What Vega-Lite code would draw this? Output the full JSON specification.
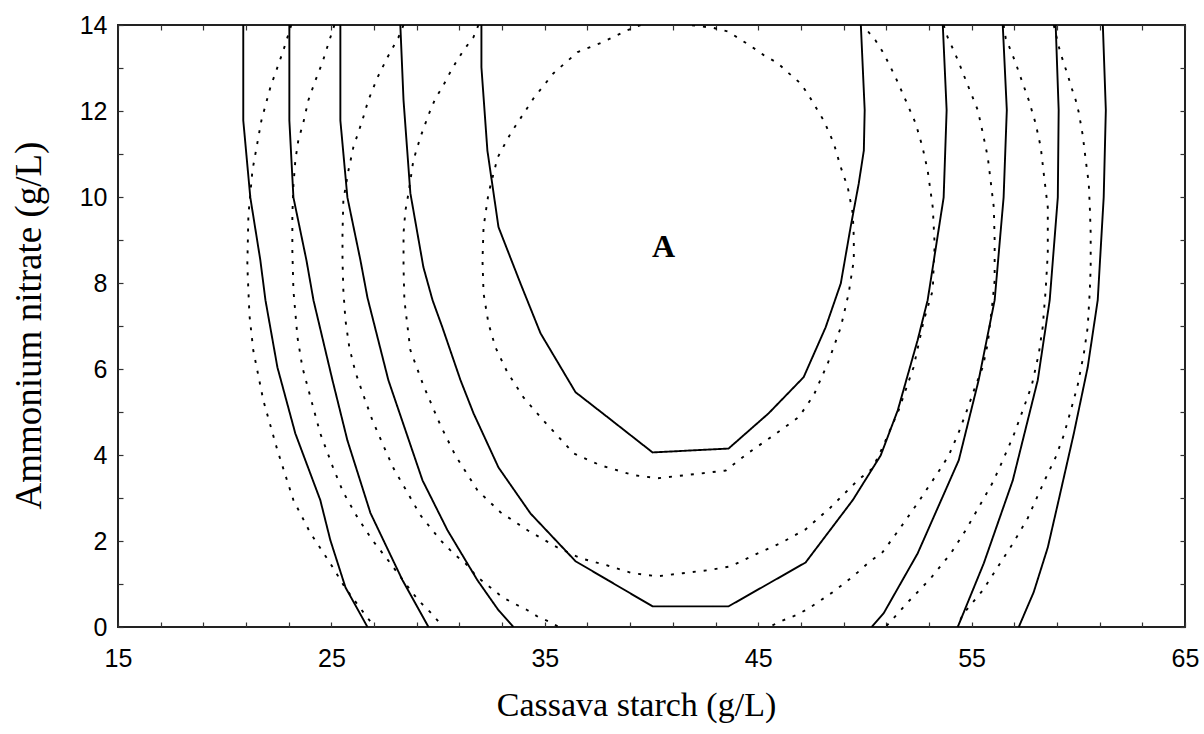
{
"$schema": "https://vega.github.io/schema/vega-lite/v6.json",
"width": 1067, "height": 602,
"autosize": "none",
"padding": {"left": 118, "top": 25, "right": 19, "bottom": 107},
"background": "white",
"config": {"view": {"stroke": "#222", "strokeWidth": 2}},
"datasets": {
"curves": [
{"c":"S1L","t":"solid","x":20.87,"y":14},{"c":"S1L","t":"solid","x":20.87,"y":11.78},{"c":"S1L","t":"solid","x":21.20,"y":9.99},{"c":"S1L","t":"solid","x":21.67,"y":8.53},{"c":"S1L","t":"solid","x":21.91,"y":7.60},{"c":"S1L","t":"solid","x":22.47,"y":6.04},{"c":"S1L","t":"solid","x":22.89,"y":5.27},{"c":"S1L","t":"solid","x":23.31,"y":4.50},{"c":"S1L","t":"solid","x":24.48,"y":2.95},{"c":"S1L","t":"solid","x":24.95,"y":2.02},{"c":"S1L","t":"solid","x":25.66,"y":0.92},{"c":"S1L","t":"solid","x":26.69,"y":0},
{"c":"S2L","t":"solid","x":23.03,"y":14},{"c":"S2L","t":"solid","x":23.03,"y":11.78},{"c":"S2L","t":"solid","x":23.22,"y":9.99},{"c":"S2L","t":"solid","x":23.83,"y":8.53},{"c":"S2L","t":"solid","x":24.16,"y":7.60},{"c":"S2L","t":"solid","x":25.05,"y":5.74},{"c":"S2L","t":"solid","x":25.75,"y":4.34},{"c":"S2L","t":"solid","x":26.83,"y":2.65},{"c":"S2L","t":"solid","x":28.33,"y":1.09},{"c":"S2L","t":"solid","x":29.55,"y":0},
{"c":"S3L","t":"solid","x":25.42,"y":14},{"c":"S3L","t":"solid","x":25.42,"y":11.78},{"c":"S3L","t":"solid","x":25.75,"y":9.99},{"c":"S3L","t":"solid","x":26.36,"y":8.53},{"c":"S3L","t":"solid","x":26.69,"y":7.66},{"c":"S3L","t":"solid","x":27.67,"y":5.74},{"c":"S3L","t":"solid","x":29.27,"y":3.41},{"c":"S3L","t":"solid","x":30.44,"y":2.25},{"c":"S3L","t":"solid","x":31.84,"y":1.09},{"c":"S3L","t":"solid","x":32.83,"y":0.39},{"c":"S3L","t":"solid","x":33.53,"y":0},
{"c":"S4","t":"solid","x":28.23,"y":14},{"c":"S4","t":"solid","x":28.38,"y":12.25},{"c":"S4","t":"solid","x":28.70,"y":10.09},{"c":"S4","t":"solid","x":29.31,"y":8.37},{"c":"S4","t":"solid","x":29.74,"y":7.60},{"c":"S4","t":"solid","x":30.20,"y":6.97},{"c":"S4","t":"solid","x":31.05,"y":5.74},{"c":"S4","t":"solid","x":31.66,"y":4.97},{"c":"S4","t":"solid","x":32.83,"y":3.71},{"c":"S4","t":"solid","x":34.33,"y":2.64},{"c":"S4","t":"solid","x":36.44,"y":1.53},{"c":"S4","t":"solid","x":40.05,"y":0.48},{"c":"S4","t":"solid","x":43.61,"y":0.48},{"c":"S4","t":"solid","x":47.22,"y":1.50},{"c":"S4","t":"solid","x":49.43,"y":2.95},{"c":"S4","t":"solid","x":50.74,"y":3.99},{"c":"S4","t":"solid","x":51.54,"y":5.04},{"c":"S4","t":"solid","x":52.47,"y":6.67},{"c":"S4","t":"solid","x":52.94,"y":7.60},{"c":"S4","t":"solid","x":53.69,"y":9.99},{"c":"S4","t":"solid","x":53.83,"y":12.02},{"c":"S4","t":"solid","x":53.65,"y":14},
{"c":"S5","t":"solid","x":32.03,"y":14},{"c":"S5","t":"solid","x":32.03,"y":13.02},{"c":"S5","t":"solid","x":32.31,"y":11.08},{"c":"S5","t":"solid","x":32.83,"y":9.30},{"c":"S5","t":"solid","x":33.86,"y":7.99},{"c":"S5","t":"solid","x":34.80,"y":6.83},{"c":"S5","t":"solid","x":36.44,"y":5.46},{"c":"S5","t":"solid","x":37.71,"y":4.97},{"c":"S5","t":"solid","x":40.05,"y":4.06},{"c":"S5","t":"solid","x":43.61,"y":4.15},{"c":"S5","t":"solid","x":45.49,"y":4.97},{"c":"S5","t":"solid","x":47.13,"y":5.81},{"c":"S5","t":"solid","x":48.16,"y":6.97},{"c":"S5","t":"solid","x":48.87,"y":7.99},{"c":"S5","t":"solid","x":49.33,"y":9.30},{"c":"S5","t":"solid","x":49.71,"y":10.31},{"c":"S5","t":"solid","x":49.95,"y":11.08},{"c":"S5","t":"solid","x":49.99,"y":12.02},{"c":"S5","t":"solid","x":49.81,"y":14},
{"c":"S3R","t":"solid","x":56.46,"y":14},{"c":"S3R","t":"solid","x":56.65,"y":12.02},{"c":"S3R","t":"solid","x":56.50,"y":9.99},{"c":"S3R","t":"solid","x":56.08,"y":7.60},{"c":"S3R","t":"solid","x":55.33,"y":5.74},{"c":"S3R","t":"solid","x":54.40,"y":3.88},{"c":"S3R","t":"solid","x":52.47,"y":1.71},{"c":"S3R","t":"solid","x":50.88,"y":0.32},{"c":"S3R","t":"solid","x":50.32,"y":0},
{"c":"S2R","t":"solid","x":58.94,"y":14},{"c":"S2R","t":"solid","x":59.08,"y":12.02},{"c":"S2R","t":"solid","x":59.04,"y":9.99},{"c":"S2R","t":"solid","x":58.66,"y":7.60},{"c":"S2R","t":"solid","x":58.10,"y":5.74},{"c":"S2R","t":"solid","x":56.93,"y":3.41},{"c":"S2R","t":"solid","x":55.57,"y":1.48},{"c":"S2R","t":"solid","x":54.35,"y":0},
{"c":"S1R","t":"solid","x":61.15,"y":14},{"c":"S1R","t":"solid","x":61.29,"y":12.02},{"c":"S1R","t":"solid","x":61.19,"y":9.99},{"c":"S1R","t":"solid","x":60.91,"y":7.60},{"c":"S1R","t":"solid","x":60.44,"y":6.04},{"c":"S1R","t":"solid","x":59.79,"y":4.50},{"c":"S1R","t":"solid","x":59.08,"y":2.95},{"c":"S1R","t":"solid","x":58.57,"y":1.85},{"c":"S1R","t":"solid","x":57.91,"y":0.81},{"c":"S1R","t":"solid","x":57.21,"y":0},
{"c":"D1L","t":"dotted","x":23.12,"y":14},{"c":"D1L","t":"dotted","x":22.75,"y":13.41},{"c":"D1L","t":"dotted","x":22.14,"y":12.55},{"c":"D1L","t":"dotted","x":21.72,"y":11.78},{"c":"D1L","t":"dotted","x":21.30,"y":10.62},{"c":"D1L","t":"dotted","x":21.11,"y":9.57},{"c":"D1L","t":"dotted","x":21.06,"y":8.41},{"c":"D1L","t":"dotted","x":21.16,"y":7.25},{"c":"D1L","t":"dotted","x":21.34,"y":6.43},{"c":"D1L","t":"dotted","x":21.81,"y":5.27},{"c":"D1L","t":"dotted","x":22.47,"y":4.11},{"c":"D1L","t":"dotted","x":23.22,"y":2.95},{"c":"D1L","t":"dotted","x":24.02,"y":2.18},{"c":"D1L","t":"dotted","x":24.95,"y":1.48},{"c":"D1L","t":"dotted","x":25.66,"y":0.90},{"c":"D1L","t":"dotted","x":26.50,"y":0.34},{"c":"D1L","t":"dotted","x":27.02,"y":0},
{"c":"D2L","t":"dotted","x":25.14,"y":14},{"c":"D2L","t":"dotted","x":24.86,"y":13.57},{"c":"D2L","t":"dotted","x":24.58,"y":13.13},{"c":"D2L","t":"dotted","x":24.25,"y":12.71},{"c":"D2L","t":"dotted","x":23.92,"y":12.25},{"c":"D2L","t":"dotted","x":23.69,"y":11.74},{"c":"D2L","t":"dotted","x":23.45,"y":11.32},{"c":"D2L","t":"dotted","x":23.31,"y":10.85},{"c":"D2L","t":"dotted","x":23.22,"y":10.27},{"c":"D2L","t":"dotted","x":23.17,"y":9.57},{"c":"D2L","t":"dotted","x":23.17,"y":8.76},{"c":"D2L","t":"dotted","x":23.22,"y":7.83},{"c":"D2L","t":"dotted","x":23.41,"y":6.74},{"c":"D2L","t":"dotted","x":23.64,"y":6.04},{"c":"D2L","t":"dotted","x":24.02,"y":5.34},{"c":"D2L","t":"dotted","x":24.48,"y":4.50},{"c":"D2L","t":"dotted","x":25.09,"y":3.69},{"c":"D2L","t":"dotted","x":25.56,"y":3.13},{"c":"D2L","t":"dotted","x":26.22,"y":2.55},{"c":"D2L","t":"dotted","x":26.92,"y":2.02},{"c":"D2L","t":"dotted","x":27.77,"y":1.48},{"c":"D2L","t":"dotted","x":28.42,"y":1.04},{"c":"D2L","t":"dotted","x":29.08,"y":0.62},{"c":"D2L","t":"dotted","x":29.64,"y":0.34},{"c":"D2L","t":"dotted","x":30.25,"y":0},
{"c":"D3L","t":"dotted","x":28.38,"y":14},{"c":"D3L","t":"dotted","x":28.14,"y":13.71},{"c":"D3L","t":"dotted","x":27.63,"y":13.25},{"c":"D3L","t":"dotted","x":27.16,"y":12.78},{"c":"D3L","t":"dotted","x":26.73,"y":12.25},{"c":"D3L","t":"dotted","x":26.45,"y":11.78},{"c":"D3L","t":"dotted","x":26.03,"y":11.16},{"c":"D3L","t":"dotted","x":25.80,"y":10.62},{"c":"D3L","t":"dotted","x":25.56,"y":9.92},{"c":"D3L","t":"dotted","x":25.52,"y":9.16},{"c":"D3L","t":"dotted","x":25.52,"y":8.53},{"c":"D3L","t":"dotted","x":25.56,"y":7.83},{"c":"D3L","t":"dotted","x":25.66,"y":7.13},{"c":"D3L","t":"dotted","x":25.84,"y":6.50},{"c":"D3L","t":"dotted","x":26.13,"y":5.92},{"c":"D3L","t":"dotted","x":26.45,"y":5.46},{"c":"D3L","t":"dotted","x":26.92,"y":4.81},{"c":"D3L","t":"dotted","x":27.39,"y":4.27},{"c":"D3L","t":"dotted","x":27.91,"y":3.69},{"c":"D3L","t":"dotted","x":28.56,"y":3.13},{"c":"D3L","t":"dotted","x":29.17,"y":2.60},{"c":"D3L","t":"dotted","x":30.11,"y":2.02},{"c":"D3L","t":"dotted","x":30.72,"y":1.71},{"c":"D3L","t":"dotted","x":31.28,"y":1.48},{"c":"D3L","t":"dotted","x":31.84,"y":1.16},{"c":"D3L","t":"dotted","x":32.45,"y":0.92},{"c":"D3L","t":"dotted","x":33.02,"y":0.69},{"c":"D3L","t":"dotted","x":33.63,"y":0.53},{"c":"D3L","t":"dotted","x":34.19,"y":0.39},{"c":"D3L","t":"dotted","x":34.70,"y":0.23},{"c":"D3L","t":"dotted","x":35.36,"y":0.09},{"c":"D3L","t":"dotted","x":35.64,"y":0},
{"c":"D4","t":"dotted","x":31.89,"y":14},{"c":"D4","t":"dotted","x":31.66,"y":13.72},{"c":"D4","t":"dotted","x":31.19,"y":13.41},{"c":"D4","t":"dotted","x":30.81,"y":13.11},{"c":"D4","t":"dotted","x":30.49,"y":12.83},{"c":"D4","t":"dotted","x":30.20,"y":12.55},{"c":"D4","t":"dotted","x":29.88,"y":12.30},{"c":"D4","t":"dotted","x":29.64,"y":12.02},{"c":"D4","t":"dotted","x":29.41,"y":11.72},{"c":"D4","t":"dotted","x":29.17,"y":11.39},{"c":"D4","t":"dotted","x":28.84,"y":10.85},{"c":"D4","t":"dotted","x":28.61,"y":10.08},{"c":"D4","t":"dotted","x":28.47,"y":9.69},{"c":"D4","t":"dotted","x":28.38,"y":9.16},{"c":"D4","t":"dotted","x":28.38,"y":8.37},{"c":"D4","t":"dotted","x":28.42,"y":7.60},{"c":"D4","t":"dotted","x":28.70,"y":6.44},{"c":"D4","t":"dotted","x":29.31,"y":5.62},{"c":"D4","t":"dotted","x":30.11,"y":4.69},{"c":"D4","t":"dotted","x":30.81,"y":3.99},{"c":"D4","t":"dotted","x":31.84,"y":3.18},{"c":"D4","t":"dotted","x":32.92,"y":2.67},{"c":"D4","t":"dotted","x":34.19,"y":2.25},{"c":"D4","t":"dotted","x":35.59,"y":1.85},{"c":"D4","t":"dotted","x":36.67,"y":1.60},{"c":"D4","t":"dotted","x":37.94,"y":1.43},{"c":"D4","t":"dotted","x":39.11,"y":1.25},{"c":"D4","t":"dotted","x":40.29,"y":1.18},{"c":"D4","t":"dotted","x":41.46,"y":1.25},{"c":"D4","t":"dotted","x":42.63,"y":1.32},{"c":"D4","t":"dotted","x":43.71,"y":1.41},{"c":"D4","t":"dotted","x":44.88,"y":1.69},{"c":"D4","t":"dotted","x":46.05,"y":1.95},{"c":"D4","t":"dotted","x":47.22,"y":2.27},{"c":"D4","t":"dotted","x":48.39,"y":2.78},{"c":"D4","t":"dotted","x":49.66,"y":3.41},{"c":"D4","t":"dotted","x":50.36,"y":3.69},{"c":"D4","t":"dotted","x":50.83,"y":4.18},{"c":"D4","t":"dotted","x":51.58,"y":5.04},{"c":"D4","t":"dotted","x":52.28,"y":6.04},{"c":"D4","t":"dotted","x":52.76,"y":7.13},{"c":"D4","t":"dotted","x":53.18,"y":7.83},{"c":"D4","t":"dotted","x":53.22,"y":8.37},{"c":"D4","t":"dotted","x":53.27,"y":8.88},{"c":"D4","t":"dotted","x":53.18,"y":9.76},{"c":"D4","t":"dotted","x":52.94,"y":10.62},{"c":"D4","t":"dotted","x":52.70,"y":11.16},{"c":"D4","t":"dotted","x":52.38,"y":11.71},{"c":"D4","t":"dotted","x":51.91,"y":12.25},{"c":"D4","t":"dotted","x":51.44,"y":12.78},{"c":"D4","t":"dotted","x":50.88,"y":13.34},{"c":"D4","t":"dotted","x":50.50,"y":13.64},{"c":"D4","t":"dotted","x":50.03,"y":13.92},{"c":"D4","t":"dotted","x":49.94,"y":14},
{"c":"D5","t":"dotted","x":39.49,"y":14},{"c":"D5","t":"dotted","x":38.88,"y":13.88},{"c":"D5","t":"dotted","x":37.71,"y":13.60},{"c":"D5","t":"dotted","x":36.54,"y":13.37},{"c":"D5","t":"dotted","x":35.41,"y":12.88},{"c":"D5","t":"dotted","x":34.48,"y":12.30},{"c":"D5","t":"dotted","x":33.40,"y":11.48},{"c":"D5","t":"dotted","x":32.79,"y":10.92},{"c":"D5","t":"dotted","x":32.36,"y":10.08},{"c":"D5","t":"dotted","x":32.13,"y":9.30},{"c":"D5","t":"dotted","x":32.08,"y":8.53},{"c":"D5","t":"dotted","x":32.13,"y":7.76},{"c":"D5","t":"dotted","x":32.36,"y":7.06},{"c":"D5","t":"dotted","x":32.69,"y":6.50},{"c":"D5","t":"dotted","x":33.25,"y":5.92},{"c":"D5","t":"dotted","x":34.00,"y":5.34},{"c":"D5","t":"dotted","x":34.94,"y":4.80},{"c":"D5","t":"dotted","x":36.35,"y":4.04},{"c":"D5","t":"dotted","x":37.61,"y":3.76},{"c":"D5","t":"dotted","x":39.16,"y":3.53},{"c":"D5","t":"dotted","x":40.29,"y":3.46},{"c":"D5","t":"dotted","x":42.30,"y":3.57},{"c":"D5","t":"dotted","x":43.48,"y":3.64},{"c":"D5","t":"dotted","x":44.51,"y":4.04},{"c":"D5","t":"dotted","x":45.73,"y":4.46},{"c":"D5","t":"dotted","x":46.90,"y":4.88},{"c":"D5","t":"dotted","x":47.60,"y":5.39},{"c":"D5","t":"dotted","x":48.26,"y":6.13},{"c":"D5","t":"dotted","x":48.87,"y":6.97},{"c":"D5","t":"dotted","x":49.24,"y":7.76},{"c":"D5","t":"dotted","x":49.48,"y":8.53},{"c":"D5","t":"dotted","x":49.48,"y":9.06},{"c":"D5","t":"dotted","x":49.43,"y":9.62},{"c":"D5","t":"dotted","x":49.20,"y":10.22},{"c":"D5","t":"dotted","x":48.87,"y":10.69},{"c":"D5","t":"dotted","x":48.54,"y":11.25},{"c":"D5","t":"dotted","x":48.07,"y":11.78},{"c":"D5","t":"dotted","x":47.37,"y":12.36},{"c":"D5","t":"dotted","x":46.99,"y":12.64},{"c":"D5","t":"dotted","x":46.43,"y":12.88},{"c":"D5","t":"dotted","x":45.92,"y":13.11},{"c":"D5","t":"dotted","x":45.26,"y":13.30},{"c":"D5","t":"dotted","x":44.74,"y":13.48},{"c":"D5","t":"dotted","x":44.09,"y":13.69},{"c":"D5","t":"dotted","x":43.57,"y":13.85},{"c":"D5","t":"dotted","x":42.92,"y":13.93},{"c":"D5","t":"dotted","x":41.83,"y":14},
{"c":"D3R","t":"dotted","x":53.69,"y":14},{"c":"D3R","t":"dotted","x":53.88,"y":13.71},{"c":"D3R","t":"dotted","x":54.16,"y":13.41},{"c":"D3R","t":"dotted","x":54.40,"y":13.13},{"c":"D3R","t":"dotted","x":54.82,"y":12.60},{"c":"D3R","t":"dotted","x":55.29,"y":12.02},{"c":"D3R","t":"dotted","x":55.52,"y":11.50},{"c":"D3R","t":"dotted","x":55.76,"y":10.92},{"c":"D3R","t":"dotted","x":55.90,"y":10.34},{"c":"D3R","t":"dotted","x":56.04,"y":9.76},{"c":"D3R","t":"dotted","x":56.08,"y":8.99},{"c":"D3R","t":"dotted","x":56.08,"y":8.06},{"c":"D3R","t":"dotted","x":55.99,"y":7.60},{"c":"D3R","t":"dotted","x":55.76,"y":6.60},{"c":"D3R","t":"dotted","x":55.52,"y":6.04},{"c":"D3R","t":"dotted","x":55.19,"y":5.62},{"c":"D3R","t":"dotted","x":54.82,"y":5.09},{"c":"D3R","t":"dotted","x":54.40,"y":4.53},{"c":"D3R","t":"dotted","x":53.93,"y":3.99},{"c":"D3R","t":"dotted","x":53.55,"y":3.69},{"c":"D3R","t":"dotted","x":53.18,"y":3.41},{"c":"D3R","t":"dotted","x":52.47,"y":2.88},{"c":"D3R","t":"dotted","x":51.68,"y":2.32},{"c":"D3R","t":"dotted","x":50.83,"y":1.74},{"c":"D3R","t":"dotted","x":50.18,"y":1.50},{"c":"D3R","t":"dotted","x":49.66,"y":1.27},{"c":"D3R","t":"dotted","x":49.10,"y":1.04},{"c":"D3R","t":"dotted","x":48.49,"y":0.81},{"c":"D3R","t":"dotted","x":47.93,"y":0.62},{"c":"D3R","t":"dotted","x":47.36,"y":0.43},{"c":"D3R","t":"dotted","x":46.75,"y":0.27},{"c":"D3R","t":"dotted","x":46.19,"y":0.16},{"c":"D3R","t":"dotted","x":45.49,"y":0},
{"c":"D2R","t":"dotted","x":56.50,"y":14},{"c":"D2R","t":"dotted","x":56.60,"y":13.69},{"c":"D2R","t":"dotted","x":56.83,"y":13.41},{"c":"D2R","t":"dotted","x":57.07,"y":13.11},{"c":"D2R","t":"dotted","x":57.30,"y":12.78},{"c":"D2R","t":"dotted","x":57.68,"y":12.25},{"c":"D2R","t":"dotted","x":58.00,"y":11.71},{"c":"D2R","t":"dotted","x":58.24,"y":11.16},{"c":"D2R","t":"dotted","x":58.38,"y":10.55},{"c":"D2R","t":"dotted","x":58.57,"y":9.76},{"c":"D2R","t":"dotted","x":58.57,"y":8.69},{"c":"D2R","t":"dotted","x":58.47,"y":7.83},{"c":"D2R","t":"dotted","x":58.33,"y":6.97},{"c":"D2R","t":"dotted","x":58.15,"y":6.36},{"c":"D2R","t":"dotted","x":57.82,"y":5.62},{"c":"D2R","t":"dotted","x":57.40,"y":5.04},{"c":"D2R","t":"dotted","x":56.97,"y":4.46},{"c":"D2R","t":"dotted","x":56.50,"y":3.92},{"c":"D2R","t":"dotted","x":55.99,"y":3.36},{"c":"D2R","t":"dotted","x":55.33,"y":2.78},{"c":"D2R","t":"dotted","x":54.72,"y":2.25},{"c":"D2R","t":"dotted","x":54.02,"y":1.71},{"c":"D2R","t":"dotted","x":53.08,"y":1.13},{"c":"D2R","t":"dotted","x":52.00,"y":0.57},{"c":"D2R","t":"dotted","x":50.97,"y":0},
{"c":"D1R","t":"dotted","x":58.85,"y":14},{"c":"D1R","t":"dotted","x":59.13,"y":13.41},{"c":"D1R","t":"dotted","x":59.32,"y":13.11},{"c":"D1R","t":"dotted","x":59.51,"y":12.83},{"c":"D1R","t":"dotted","x":59.69,"y":12.53},{"c":"D1R","t":"dotted","x":59.88,"y":12.25},{"c":"D1R","t":"dotted","x":60.02,"y":11.97},{"c":"D1R","t":"dotted","x":60.21,"y":11.43},{"c":"D1R","t":"dotted","x":60.35,"y":10.85},{"c":"D1R","t":"dotted","x":60.49,"y":10.32},{"c":"D1R","t":"dotted","x":60.54,"y":9.76},{"c":"D1R","t":"dotted","x":60.58,"y":9.16},{"c":"D1R","t":"dotted","x":60.58,"y":8.37},{"c":"D1R","t":"dotted","x":60.54,"y":7.83},{"c":"D1R","t":"dotted","x":60.44,"y":6.97},{"c":"D1R","t":"dotted","x":60.26,"y":6.36},{"c":"D1R","t":"dotted","x":59.97,"y":5.62},{"c":"D1R","t":"dotted","x":59.65,"y":5.04},{"c":"D1R","t":"dotted","x":59.32,"y":4.46},{"c":"D1R","t":"dotted","x":58.94,"y":3.95},{"c":"D1R","t":"dotted","x":58.47,"y":3.46},{"c":"D1R","t":"dotted","x":58.15,"y":3.11},{"c":"D1R","t":"dotted","x":57.63,"y":2.53},{"c":"D1R","t":"dotted","x":56.97,"y":1.97},{"c":"D1R","t":"dotted","x":56.27,"y":1.43},{"c":"D1R","t":"dotted","x":55.52,"y":0.85},{"c":"D1R","t":"dotted","x":54.63,"y":0.32},{"c":"D1R","t":"dotted","x":54.30,"y":0}
],
"labels": [{"x": 40.57, "y": 8.6, "label": "A"}]
},
"layer": [
{
"data": {"name": "curves"},
"mark": {"type": "line", "color": "black", "strokeWidth": 1.9, "clip": true, "strokeCap": "butt"},
"encoding": {
"x": {"field": "x", "type": "quantitative", "scale": {"domain": [15, 65], "nice": false, "zero": false},
"axis": {"orient": "bottom", "values": [15,17,19,21,23,25,27,29,31,33,35,37,39,41,43,45,47,49,51,53,55,57,59,61,63,65],
"tickSize": -5, "tickColor": "#333", "tickWidth": 1.2, "domain": false, "grid": false,
"labelExpr": "(datum.value - 15) % 10 === 0 ? datum.label : ''",
"labelFont": "Liberation Sans", "labelFontSize": 25, "labelColor": "black", "labelPadding": 24, "labelFlush": false, "labelOverlap": false,
"title": "Cassava starch (g/L)", "titleFont": "Liberation Serif", "titleFontSize": 34, "titleFontWeight": "normal", "titleColor": "black",
"titleX": 518, "titleY": 88, "titleAlign": "center", "titleBaseline": "alphabetic"}},
"y": {"field": "y", "type": "quantitative", "scale": {"domain": [0, 14], "nice": false, "zero": false},
"axis": {"orient": "left", "values": [0,1,2,3,4,5,6,7,8,9,10,11,12,13,14],
"tickSize": -5, "tickColor": "#333", "tickWidth": 1.2, "domain": false, "grid": false,
"labelExpr": "datum.value % 2 === 0 ? datum.label : ''",
"labelFont": "Liberation Sans", "labelFontSize": 25, "labelColor": "black", "labelPadding": 16, "labelOverlap": false, "labelFlush": false,
"title": "Ammonium nitrate (g/L)", "titleFont": "Liberation Serif", "titleFontSize": 37, "titleFontWeight": "normal", "titleColor": "black",
"titleAngle": -90, "titleX": -78, "titleY": 300, "titleAlign": "center", "titleBaseline": "alphabetic"}},
"detail": {"field": "c", "type": "nominal"},
"strokeDash": {"field": "t", "type": "nominal", "scale": {"domain": ["solid", "dotted"], "range": [[1, 0], [3, 8]]}, "legend": null},
"order": {"value": null}
}
},
{
"data": {"name": "labels"},
"mark": {"type": "text", "font": "Liberation Serif", "fontSize": 32, "fontWeight": "bold", "align": "center", "baseline": "alphabetic", "color": "black"},
"encoding": {
"x": {"field": "x", "type": "quantitative", "scale": {"domain": [15, 65], "nice": false, "zero": false},
"axis": {"orient": "top", "values": [15,17,19,21,23,25,27,29,31,33,35,37,39,41,43,45,47,49,51,53,55,57,59,61,63,65], "tickSize": -5, "tickColor": "#333", "tickWidth": 1.2, "domain": false, "grid": false, "labels": false, "title": null}},
"y": {"field": "y", "type": "quantitative", "scale": {"domain": [0, 14], "nice": false, "zero": false},
"axis": {"orient": "right", "values": [0,1,2,3,4,5,6,7,8,9,10,11,12,13,14], "tickSize": -5, "tickColor": "#333", "tickWidth": 1.2, "domain": false, "grid": false, "labels": false, "title": null}},
"text": {"field": "label", "type": "nominal"}
}
}
],
"resolve": {"axis": {"x": "independent", "y": "independent"}}
}
